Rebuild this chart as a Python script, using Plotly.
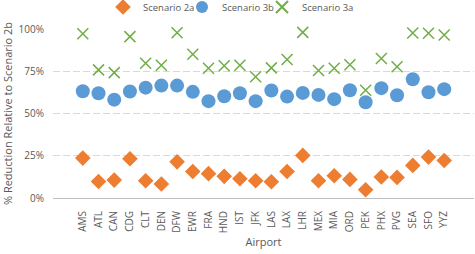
import plotly.graph_objects as go

airports = ["AMS","ATL","CAN","CDG","CLT","DEN","DFW","EWR","FRA","HND","IST","JFK",
            "LAS","LAX","LHR","MEX","MIA","ORD","PEK","PHX","PVG","SEA","SFO","YYZ"]
scenario_2a = [23.6, 9.8, 10.6, 23.2, 10.2, 8.3, 21.4, 15.7, 14.4, 12.8, 11.4, 10.2,
               9.6, 15.7, 25.2, 10.2, 13.2, 11.0, 4.9, 12.4, 12.2, 19.3, 24.2, 22.2]
scenario_3b = [63.2, 62.0, 58.2, 63.0, 65.3, 66.5, 66.5, 62.8, 57.3, 60.2, 62.0, 57.3,
               63.6, 60.0, 62.2, 61.0, 58.5, 63.8, 56.7, 65.0, 60.8, 70.3, 62.6, 64.4]
scenario_3a = [97.2, 75.8, 74.2, 95.5, 79.7, 78.6, 97.8, 85.1, 76.8, 78.3, 78.6, 71.8,
               77.0, 81.9, 98.0, 75.4, 76.8, 78.9, 63.8, 82.5, 77.7, 97.6, 97.5, 96.5]

W, H = 475, 254
ML, MR = 53, 1
font = dict(family="Open Sans, Liberation Sans, sans-serif", size=10, color="#595959")

fig = go.Figure()
fig.add_trace(go.Scatter(x=airports, y=[v/100 for v in scenario_2a], mode="markers",
                         name="Scenario 2a", cliponaxis=False, legend="legend",
                         showlegend=True,
                         marker=dict(symbol="diamond", size=12, color="#ED7D31")))
fig.add_trace(go.Scatter(x=airports, y=[v/100 for v in scenario_3b], mode="markers",
                         name="Scenario 3b", cliponaxis=False, legend="legend2",
                         showlegend=True,
                         marker=dict(symbol="circle", size=14, color="#5B9BD5")))
fig.add_trace(go.Scatter(x=airports, y=[v/100 for v in scenario_3a], mode="markers",
                         name="Scenario 3a", cliponaxis=False, legend="legend3",
                         showlegend=True,
                         marker=dict(symbol="x-thin-open", size=11, color="#70AD47",
                                     line=dict(color="#70AD47", width=1.5))))

def leg(px):
    return dict(x=(px - ML) / (W - ML - MR), xanchor="left", y=1 - 7 / H,
                yref="container", yanchor="middle", bgcolor="rgba(0,0,0,0)",
                itemsizing="constant",
                font=dict(size=9.5, color="#595959"))

fig.update_layout(
    width=W, height=H, showlegend=True,
    margin=dict(l=ML, r=MR, t=29, b=56, autoexpand=False),
    paper_bgcolor="white", plot_bgcolor="white",
    font=font,
    legend=leg(103), legend2=leg(182), legend3=leg(262),
    xaxis=dict(type="category", tickangle=-90, showgrid=False, showline=True,
               linecolor="#bfbfbf", linewidth=1, ticks="", ticklabelstandoff=8,
               automargin=False,
               title=dict(text="Airport", font=dict(size=11), standoff=6)),
    yaxis=dict(range=[0, 1.0], tickvals=[0, 0.25, 0.5, 0.75, 1.0], tickformat=".0%",
               showgrid=True, gridcolor="#d9d9d9", griddash="7px,3px", gridwidth=1,
               zeroline=False, showline=False, ticks="", ticklabelstandoff=8,
               automargin=False,
               title=dict(text="% Reduction Relative to Scenario 2b", font=dict(size=11),
                          standoff=4)),
)

fig.write_html("out.html", config={"displayModeBar": False},
               post_script="document.body.style.margin='0';")
